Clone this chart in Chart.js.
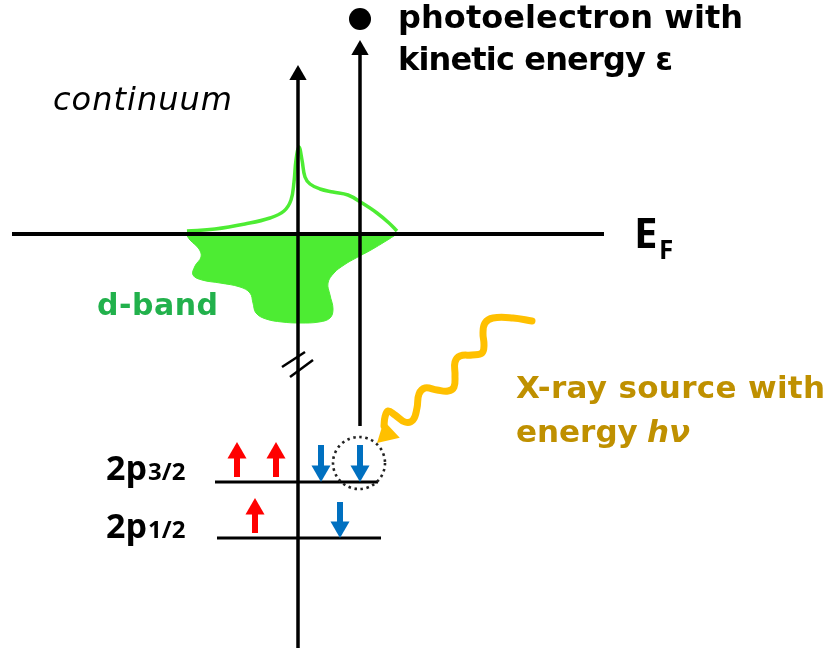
<!DOCTYPE html>
<html><head><meta charset="utf-8">
<script src="https://cdn.jsdelivr.net/npm/chart.js@4"></script>
<style>html,body{margin:0;padding:0;background:#fff;overflow:hidden}canvas{display:block}</style>
</head><body>
<canvas id="c" width="833" height="658"></canvas>
<script>
// ---------- diagram data (frame 833 x 658, y grows downward) ----------
const fermiLevel   = [[12,234],[604,234]];
const mainAxis     = [[298,648],[298,70]];
const photoPath    = [[360,426],[360,46]];
const mainAxisTip  = [298,65];
const photoTip     = [360,40];
const photoelectron= [360,19];
const level32      = [[215,482],[378,482]];
const level12      = [[217,538],[381,538]];
const breakMark1   = [[282,367],[305,352]];
const breakMark2   = [[290,377],[313,360]];
// occupied d-band density of states (filled, below E_F)
const dosOccupied = [[186,234],[190,240],[199,249],[201,257],[195,266],[193,275],[202,280],[220,283],[240,287],[250,293],
  [253,303],[256,313],[266,319],[282,322],[300,323],[319,322],[330,318],[333,309],[330,295],[328,283],[334,273],[344,265],
  [356,258],[371,250],[386,241],[397,234]];
// unoccupied part (outline, above E_F)
const dosOutline = [[187,231],[215,229],[245,224],[270,218],[284,211],[291,200],[294,182],[296,160],[299,147],[302,160],
  [305,177],[310,184],[320,189],[333,192],[348,195],[362,203],[377,213],[389,223],[397,231]];
// incoming X-ray photon (wavy)
const xrayWave = [[532,321],[513,318],[493,318],[485,323],[483,333],[484,345],[482,353],[472,355],[460,356],[455,362],
  [455,375],[454,387],[448,391],[437,390],[425,388],[419,394],[417,408],[413,420],[405,422],[395,415],[388,411],[385,417],[384,426]];
const xrayTip = [377,443];
// spins: [x, tail y, tip y]
const upSpins   = [[237,477,442],[276,477,442],[255,533,498]];
const downSpins = [[321,445,482],[360,445,482],[340,502,538]];
const holeCircle = [359,463,26];
// texts
const photoText  = ['photoelectron with','kinetic energy ε'];
const contText   = 'continuum';
const bandText   = 'd-band';
const xrayText   = ['X-ray source with','energy ','hν'];
const levelNames = [['2p','3/2'],['2p','1/2']];
const fermiText  = ['E','F'];

// ---------- build datasets ----------
const RED='#FF0000', BLUE='#0070C0', GREEN='#4DEC33', GREENTXT='#22B14C', YEL='#FFC000', GOLD='#BF9000';
const ds=[];
const P=a=>a.map(p=>({x:p[0],y:p[1]}));
function line(pts,color,w,extra){ds.push(Object.assign({data:P(pts),borderColor:color,backgroundColor:color,borderWidth:w,pointRadius:0,fill:false,tension:0,borderCapStyle:'butt'},extra||{}));}
function heads(pts,color,r,rot){ds.push({data:P(pts),showLine:false,pointStyle:'triangle',pointRadius:r,pointHoverRadius:r,pointRotation:rot,pointBackgroundColor:color,pointBorderColor:color,pointBorderWidth:0});}

line(dosOccupied,GREEN,1,{fill:'shape',tension:0.4});
line(dosOutline,GREEN,3.5,{tension:0.4});
line(fermiLevel,'#000',4);
line(mainAxis,'#000',3.5);
line(photoPath,'#000',3.5);
heads([[mainAxisTip[0],mainAxisTip[1]+10],[photoTip[0],photoTip[1]+10]],'#000',10,0);
ds.push({data:P([photoelectron]),showLine:false,pointStyle:'circle',pointRadius:11,pointBackgroundColor:'#000',pointBorderWidth:0});
line(level32,'#000',3);
line(level12,'#000',3);
line(breakMark1,'#000',2.5);
line(breakMark2,'#000',2.5);
const RS=11;
upSpins.forEach(s=>line([[s[0],s[1]],[s[0],s[2]+RS]],RED,6));
heads(upSpins.map(s=>[s[0],s[2]+RS]),RED,RS,0);
downSpins.forEach(s=>line([[s[0],s[1]],[s[0],s[2]-RS]],BLUE,6));
heads(downSpins.map(s=>[s[0],s[2]-RS]),BLUE,RS,180);
line(xrayWave,YEL,7,{tension:0.4,borderCapStyle:'round',borderJoinStyle:'round'});
const XR=13.5, XA=227*Math.PI/180;
heads([[xrayTip[0]-XR*Math.sin(XA),xrayTip[1]+XR*Math.cos(XA)]],YEL,XR,227);
ds.forEach((d,i)=>d.order=ds.length-i);

// ---------- plugins ----------
const holePlugin={id:'hole',afterDatasetsDraw(ch){const c=ch.ctx,xs=ch.scales.x,ys=ch.scales.y;
  c.save();c.setLineDash([2.5,3.6]);c.lineWidth=2.6;c.strokeStyle='#222';c.beginPath();
  c.arc(xs.getPixelForValue(holeCircle[0]),ys.getPixelForValue(holeCircle[1]),holeCircle[2],0,Math.PI*2);c.stroke();c.restore();}};

function fitText(c,t,x,y,font,color,w){c.font=font;c.fillStyle=color;c.letterSpacing='0px';
  if(w){const m=c.measureText(t).width;const sp=(w-m)/Math.max(1,t.length-1);c.letterSpacing=sp.toFixed(2)+'px';}
  c.fillText(t,x,y);c.letterSpacing='0px';}
const textPlugin={id:'texts',afterDraw(ch){const c=ch.ctx,xs=ch.scales.x,ys=ch.scales.y;const X=v=>xs.getPixelForValue(v),Y=v=>ys.getPixelForValue(v);
  c.save();c.textBaseline='alphabetic';c.textAlign='left';
  const D='"DejaVu Sans", sans-serif', O='"Open Sans", "Noto Sans", sans-serif';
  fitText(c,photoText[0],X(398),Y(28),'bold 32px '+D,'#000',345);
  fitText(c,photoText[1],X(398),Y(70),'bold 32px '+D,'#000',275);
  fitText(c,contText,X(53),Y(110),'italic 32px '+D,'#000',179);
  fitText(c,bandText,X(97),Y(315),'bold 30px '+D,GREENTXT,121);
  fitText(c,xrayText[0],X(516),Y(398),'bold 31px '+D,GOLD,309);
  fitText(c,xrayText[1],X(516),Y(442),'bold 31px '+D,GOLD,null);
  fitText(c,xrayText[2],X(647),Y(442),'italic bold 31px '+D,GOLD,null);
  fitText(c,fermiText[0],X(634),Y(248),'bold 42px '+O,'#000',null);
  fitText(c,fermiText[1],X(659),Y(259),'bold 26px '+O,'#000',null);
  [480,538].forEach((b,i)=>{fitText(c,levelNames[i][0],X(106),Y(b),'bold 34px '+O,'#000',null);
    fitText(c,levelNames[i][1],X(148),Y(b),'bold 24px '+O,'#000',null);});
  c.restore();}};

new Chart(document.getElementById('c'),{type:'line',data:{datasets:ds},
  options:{responsive:false,animation:false,devicePixelRatio:1,events:[],layout:{padding:0,autoPadding:false},
    plugins:{legend:{display:false},tooltip:{enabled:false}},
    scales:{x:{type:'linear',min:0,max:833,display:false},y:{type:'linear',min:0,max:658,reverse:true,display:false}}},
  plugins:[holePlugin,textPlugin]});
</script>
</body></html>
